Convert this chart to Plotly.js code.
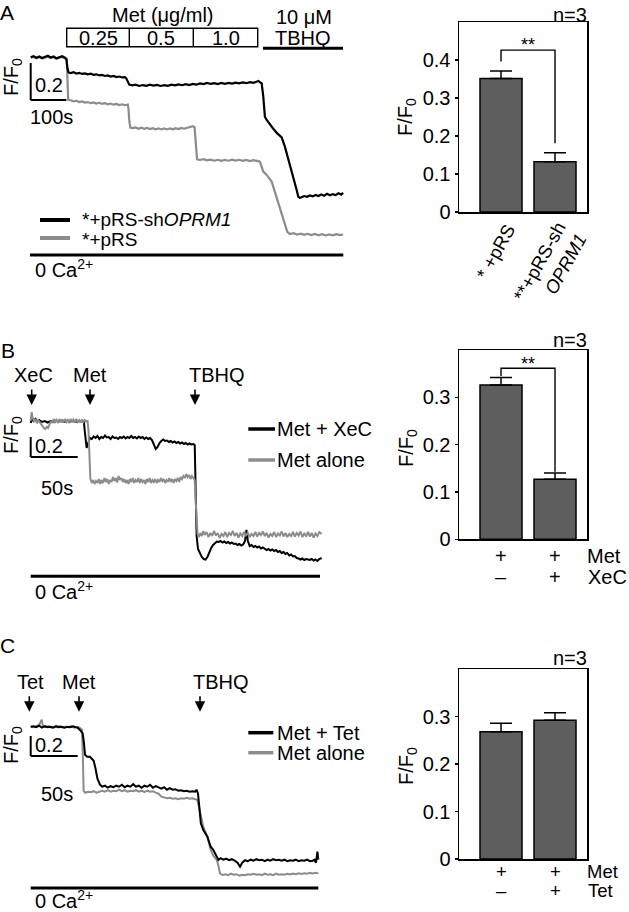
<!DOCTYPE html>
<html><head><meta charset="utf-8">
<script src="https://cdn.plot.ly/plotly-3.0.1.min.js"></script>
<style>html,body{margin:0;padding:0;background:#fff;}#chart{width:629px;height:912px;}</style>
</head><body><div id="chart"></div>
<script>
// ---------------- DATA ----------------
// Panel A traces (time s, F/F0)
const aBlackT = [0,8,16,24,32,40,48,56,64,72,80,88,96,100,103,106,112,120,128,136,144,152,160,168,176,184,192,200,208,216,224,232,240,248,256,264,268,272,276,284,294,304,314,324,334,344,354,364,374,384,394,404,414,424,434,444,454,464,474,484,494,504,514,524,534,544,554,564,574,584,594,604,614,624,632,638,642,647,651.5,656,661,670,679,690,703,712,717,726,735.6,745,749.6,754,759,766,774,782,790,798,806,814,822,830,838,846,854,862,870,875];
const aBlackV = [1.000,1.006,0.998,1.004,0.996,1.003,1.008,0.999,1.004,0.995,1.002,1.006,0.998,0.99,0.94,0.918,0.915,0.919,0.912,0.916,0.91,0.913,0.908,0.911,0.905,0.908,0.902,0.905,0.899,0.902,0.896,0.899,0.893,0.896,0.891,0.893,0.885,0.866,0.852,0.848,0.852,0.845,0.85,0.846,0.852,0.847,0.851,0.845,0.849,0.846,0.852,0.848,0.853,0.849,0.855,0.85,0.856,0.852,0.859,0.855,0.861,0.856,0.86,0.855,0.861,0.857,0.862,0.858,0.863,0.859,0.864,0.86,0.866,0.862,0.87,0.872,0.866,0.859,0.787,0.679,0.661,0.635,0.615,0.59,0.567,0.517,0.483,0.409,0.348,0.283,0.246,0.24,0.243,0.25,0.246,0.253,0.248,0.256,0.25,0.258,0.252,0.262,0.254,0.26,0.255,0.265,0.258,0.268];
const aGrayT = [0,8,16,24,32,40,48,56,64,72,80,88,96,101,103,105,112,120,128,136,144,152,160,168,176,184,192,200,208,216,224,232,240,248,256,264,272,274,276,279,286,294,302,310,318,326,334,342,350,358,366,374,382,390,398,406,414,422,430,438,446,454,459,461,463,466,474,484,494,504,514,524,534,544,554,564,574,584,594,604,614,624,634,642,651.5,661,675,684,693.6,703,712,718.8,726,736,746,756,766,776,786,796,806,816,826,836,846,856,866,875];
const aGrayV = [0.998,1.002,0.995,1.0,0.993,0.999,1.003,0.996,1.0,0.992,0.998,1.002,0.995,0.99,0.88,0.77,0.768,0.762,0.765,0.758,0.761,0.755,0.758,0.752,0.756,0.75,0.754,0.748,0.752,0.746,0.75,0.744,0.748,0.742,0.746,0.741,0.744,0.72,0.66,0.62,0.617,0.621,0.614,0.619,0.613,0.618,0.612,0.617,0.611,0.616,0.61,0.615,0.61,0.616,0.611,0.617,0.612,0.618,0.614,0.62,0.625,0.628,0.622,0.58,0.5,0.448,0.445,0.449,0.443,0.447,0.441,0.446,0.44,0.445,0.441,0.447,0.442,0.446,0.44,0.445,0.439,0.444,0.44,0.436,0.382,0.364,0.328,0.274,0.22,0.165,0.103,0.057,0.045,0.049,0.042,0.047,0.04,0.046,0.039,0.045,0.038,0.044,0.037,0.043,0.038,0.044,0.039,0.042];

// Panel B traces
const bBlackT = [0,1.5,3,5,7,9,12,15,18,21,24,27,30,33,36,39,42,45,48,51,54,56.5,57.5,58.5,59.5,60.5,61.5,63,65,67,69,71,73,75,77,79,81,83,85,87,89,91,93,95,97,99,101,103,105,107,109,111,113,115,117,119,121,123,125,127,129,131,133,135,137,139,141,143,145,147,149,151,153,155,157,159,161,163,165,167,169,171,173,174.5,175.5,176.5,178,180,182,184,186,188,190,192,194,196,198,200,202,204,206,208,210,212,214,216,218,220,222,224,226,228,229.5,231,233,235,237,239,241,243,245,247,249,251,253,255,257,259,261,263,265,267,269,271,273,275,277,279,281,283,285,287,289,291,293,295,297,299,301,303,305,307,309.5];
const bBlackV = [0.98,1.03,1.0,1.02,0.99,1.01,0.99,1.0,0.985,1.0,0.99,1.005,0.995,1.0,0.99,1.005,0.995,1.0,0.99,1.0,0.995,1.0,0.9,0.78,0.73,0.76,0.8,0.83,0.82,0.845,0.83,0.85,0.82,0.84,0.83,0.855,0.835,0.84,0.82,0.845,0.83,0.835,0.82,0.84,0.83,0.845,0.825,0.84,0.83,0.85,0.83,0.84,0.825,0.845,0.83,0.84,0.82,0.835,0.82,0.83,0.81,0.77,0.72,0.74,0.78,0.8,0.815,0.8,0.805,0.79,0.8,0.785,0.795,0.78,0.79,0.775,0.785,0.77,0.78,0.765,0.775,0.765,0.77,0.76,0.3,-0.15,-0.28,-0.33,-0.36,-0.38,-0.385,-0.36,-0.31,-0.27,-0.24,-0.22,-0.205,-0.21,-0.2,-0.215,-0.205,-0.22,-0.21,-0.225,-0.215,-0.23,-0.225,-0.24,-0.23,-0.245,-0.235,-0.2,-0.09,-0.2,-0.25,-0.24,-0.26,-0.25,-0.265,-0.255,-0.275,-0.265,-0.28,-0.29,-0.28,-0.295,-0.285,-0.3,-0.29,-0.31,-0.3,-0.32,-0.31,-0.33,-0.32,-0.345,-0.335,-0.355,-0.35,-0.37,-0.375,-0.385,-0.375,-0.39,-0.38,-0.385,-0.39,-0.38,-0.395,-0.385,-0.4,-0.38,-0.37];
const bGrayT = [0,1,2,3.5,5,6.5,8,9.5,11,12.5,14,15.5,17,18.5,20,21.5,23,24.5,26,27.5,29,30.5,32,33.5,35,36.5,38,39.5,41,42.5,44,45.5,47,48.5,50,51.5,53,54.5,56,57.5,59,60.5,61.5,62.5,63.5,65,66.5,68,69.5,71,72.5,74,75.5,77,78.5,80,81.5,83,84.5,86,87.5,89,90.5,92,93.5,95,96.5,98,99.5,101,102.5,104,105.5,107,108.5,110,111.5,113,114.5,116,117.5,119,120.5,122,123.5,125,126.5,128,129.5,131,132.5,134,135.5,137,138.5,140,141.5,143,144.5,146,147.5,149,150.5,152,153.5,155,156.5,158,159.5,161,162.5,164,165.5,167,168.5,170,171.5,173,174.5,175.5,176.5,177.5,179,180.5,182,183.5,185,187,189,191,193,195,197,199,201,203,205,207,209,211,213,215,217,219,221,223,225,227,229,231,233,235,237,239,241,243,245,247,249,251,253,255,257,259,261,263,265,267,269,271,273,275,277,279,281,283,285,287,289,291,293,295,297,299,301,303,305,307,309.5];
const bGrayV = [1.0,1.09,1.03,1.0,1.02,0.98,1.01,0.99,0.97,0.94,0.93,0.92,0.94,0.93,0.97,1.0,0.98,1.02,0.99,1.01,0.98,1.02,0.99,1.015,0.985,1.02,0.99,1.01,0.98,1.02,0.995,1.015,0.985,1.02,0.99,1.01,0.985,1.015,0.99,1.01,0.995,1.0,0.9,0.6,0.42,0.38,0.41,0.37,0.4,0.38,0.42,0.37,0.41,0.38,0.43,0.39,0.42,0.37,0.41,0.39,0.44,0.4,0.43,0.385,0.45,0.41,0.43,0.39,0.42,0.38,0.41,0.37,0.42,0.39,0.43,0.38,0.41,0.39,0.43,0.38,0.42,0.39,0.41,0.37,0.42,0.39,0.43,0.38,0.41,0.39,0.42,0.38,0.41,0.39,0.43,0.4,0.42,0.38,0.41,0.39,0.43,0.39,0.42,0.38,0.42,0.4,0.43,0.39,0.44,0.42,0.45,0.43,0.47,0.44,0.46,0.42,0.45,0.43,0.41,0.2,-0.05,-0.13,-0.16,-0.12,-0.15,-0.1,-0.14,-0.11,-0.16,-0.12,-0.15,-0.1,-0.145,-0.12,-0.17,-0.13,-0.15,-0.11,-0.16,-0.12,-0.14,-0.1,-0.15,-0.12,-0.165,-0.125,-0.15,-0.11,-0.145,-0.12,-0.16,-0.13,-0.15,-0.11,-0.155,-0.12,-0.14,-0.105,-0.15,-0.12,-0.165,-0.13,-0.15,-0.11,-0.16,-0.125,-0.145,-0.105,-0.155,-0.12,-0.16,-0.13,-0.15,-0.11,-0.155,-0.12,-0.145,-0.105,-0.16,-0.125,-0.15,-0.11,-0.155,-0.12,-0.165,-0.125,-0.15,-0.11,-0.13];

// Panel C traces
const cBlackT = [0,3,6,9,12,15,18,21,24,27,30,33,36,39,42,45,48,50,52.4,55.3,56.5,57.8,60,63,65,67,69,71,73.7,76,79,82,85,88,91,94,97,100,103,106,109,112,115,118,121,124,127,130,133,136,139,142,145,148,151,154,157,160,163,166,169,172,175,176.6,178,179,181,183.6,186,188,190,191.5,194.3,196.6,198,199.6,202,205,208,211,214,217,220,222.7,225,228,231,234,237,240,243,246,249,252,255,258,261,264,267,270,273,276,279,282,285,288,291,294,297,300,302,303.5,305,306];
const cBlackV = [1.0,1.005,0.995,1.01,0.99,1.005,0.995,1.0,0.99,1.005,0.995,1.0,0.99,1.0,0.995,1.005,0.995,0.99,0.967,0.933,0.85,0.72,0.70,0.70,0.68,0.66,0.58,0.48,0.42,0.4,0.41,0.39,0.405,0.395,0.41,0.4,0.42,0.395,0.41,0.4,0.425,0.4,0.41,0.39,0.41,0.4,0.42,0.39,0.405,0.39,0.38,0.395,0.37,0.385,0.37,0.375,0.36,0.365,0.355,0.36,0.35,0.355,0.35,0.37,0.33,0.233,0.033,-0.033,-0.07,-0.1,-0.16,-0.2,-0.233,-0.267,-0.3,-0.333,-0.315,-0.33,-0.32,-0.335,-0.325,-0.34,-0.36,-0.4,-0.36,-0.335,-0.345,-0.33,-0.34,-0.325,-0.335,-0.33,-0.345,-0.33,-0.34,-0.325,-0.335,-0.33,-0.34,-0.33,-0.345,-0.335,-0.34,-0.33,-0.345,-0.335,-0.34,-0.33,-0.345,-0.34,-0.33,-0.36,-0.25,-0.33];
const cGrayT = [0,3,6,9,11.7,13,16,19,22,25,28,31,34,37,40,43,46,49,52,54.5,55.5,56.3,58,61,64,67,70,73,76,79,82,85,88,91,94,97,100,103,106,109,112,115,118,121,124,127,130,133,136,139,142,145,148,151,154,157,160,163,166,169,172,175,177,179,181,183.6,187.9,191.5,194.3,197.9,199.5,201.4,204,207,210,213,216,219,222,225,228,231,234,237,240,243,246,249,252,255,258,261,264,267,270,273,276,279,282,285,288,291,294,297,300,303,306];
const cGrayV = [1.0,0.995,1.005,1.02,1.07,1.0,0.995,1.005,0.99,1.0,0.995,1.005,0.99,1.0,0.995,1.005,0.99,1.0,0.99,0.97,0.7,0.36,0.34,0.35,0.345,0.355,0.34,0.35,0.36,0.35,0.365,0.35,0.36,0.355,0.37,0.355,0.365,0.35,0.36,0.355,0.365,0.35,0.36,0.345,0.36,0.35,0.355,0.34,0.33,0.3,0.29,0.285,0.29,0.28,0.285,0.275,0.285,0.28,0.29,0.28,0.285,0.28,0.27,0.2,0.1,0.0,-0.1,-0.233,-0.29,-0.333,-0.38,-0.467,-0.483,-0.475,-0.485,-0.47,-0.48,-0.475,-0.49,-0.48,-0.485,-0.475,-0.48,-0.47,-0.48,-0.475,-0.485,-0.47,-0.48,-0.475,-0.485,-0.47,-0.48,-0.475,-0.48,-0.47,-0.478,-0.468,-0.475,-0.465,-0.472,-0.466,-0.47,-0.462,-0.468,-0.46,-0.467];

// Bar charts
const barPos = [0, 1];
const barALabels = ['* +pRS', '**+pRS-sh<br><i>OPRM1</i>'];
const barAMeans = [0.351, 0.132];
const barAErrs = [0.020, 0.024];
const barBMeans = [0.326, 0.127];
const barBErrs = [0.016, 0.013];
const barCMeans = [0.268, 0.292];
const barCErrs = [0.018, 0.016];
const barBMetRow = ['+', '+'];
const barBXeCRow = ['–', '+'];
const barCMetRow = ['+', '+'];
const barCTetRow = ['–', '+'];
const barATicks = [0, 0.1, 0.2, 0.3, 0.4];
const barBCTicks = [0, 0.1, 0.2, 0.3];

// Labels
const aNames = ['*+pRS-sh<i>OPRM1</i>', '*+pRS'];
const bNames = ['Met + XeC', 'Met alone'];
const cNames = ['Met + Tet', 'Met alone'];
const metConcs = ['0.25', '0.5', '1.0'];
const bAdditions = ['XeC', 'Met', 'TBHQ'];
const cAdditions = ['Tet', 'Met', 'TBHQ'];

// ---------------- LAYOUT HELPERS ----------------
const W = 629, H = 912;
const px = x => x / W;
const py = y => 1 - y / H;
const BLACK = '#000000', GRAY = '#8c8c8c', BARFILL = '#5e5e5e';
const FONT = 'Liberation Sans, Arial, Helvetica, sans-serif';

function xAxisLin(pxA, pxB, pxRef, valRef, ppu) {
  return {domain: [px(pxA), px(pxB)], range: [valRef + (pxA - pxRef) / ppu, valRef + (pxB - pxRef) / ppu], visible: false, fixedrange: true};
}
function yAxisLin(pxTop, pxBot, pxRef, valRef, ppu) {
  return {domain: [py(pxBot), py(pxTop)], range: [valRef - (pxBot - pxRef) / ppu, valRef - (pxTop - pxRef) / ppu], visible: false, fixedrange: true};
}
function barX(anchor) {
  return {domain: [px(459), px(587.3)], range: [-0.778, 1.598], anchor: anchor, showline: true, mirror: true, linecolor: BLACK, linewidth: 1.5, ticks: '', showticklabels: false, showgrid: false, zeroline: false, fixedrange: true};
}
function barY(anchor, top, bot, maxV, ticks) {
  return {domain: [py(bot), py(top)], range: [0, maxV], anchor: anchor, showline: true, mirror: true, linecolor: BLACK, linewidth: 1.5, ticks: 'outside', ticklen: 3, tickwidth: 1.5, tickcolor: BLACK, tickvals: ticks, ticktext: ticks.map(v => v === 0 ? '0' : v.toFixed(1)), tickfont: {size: 20, color: BLACK, family: FONT}, showgrid: false, zeroline: false, fixedrange: true};
}

function txt(x, y, text, o) {
  return Object.assign({xref: 'paper', yref: 'paper', x: px(x), y: py(y), text: text, showarrow: false, xanchor: 'center', yanchor: 'middle', borderpad: 0, borderwidth: 0, font: {size: 20, color: BLACK, family: FONT}}, o || {});
}
function arrow(x, yTip, len) {
  return {xref: 'paper', yref: 'paper', x: px(x), y: py(yTip), text: '', showarrow: true, arrowhead: 2, arrowsize: 1.3, arrowwidth: 1.6, arrowcolor: BLACK, ax: 0, ay: -len, standoff: 0, startstandoff: 0};
}
function pline(x0, y0, x1, y1, w, c) {
  return {type: 'line', xref: 'paper', yref: 'paper', x0: px(x0), y0: py(y0), x1: px(x1), y1: py(y1), line: {color: c || BLACK, width: w}};
}
function dline(xr, yr, x0, y0, x1, y1, w) {
  return {type: 'line', xref: xr, yref: yr, x0: x0, y0: y0, x1: x1, y1: y1, line: {color: BLACK, width: w}};
}

// ---------------- TRACES ----------------
const lineTr = (t, v, c, xa, ya, w) => ({type: 'scatter', mode: 'lines', x: t, y: v, line: {color: c, width: w}, xaxis: xa, yaxis: ya, hoverinfo: 'skip', showlegend: false});
const barTr = (means, errs, xa, ya) => ({type: 'bar', x: barPos, y: means, width: 0.778, marker: {color: BARFILL, line: {color: BLACK, width: 1.5}}, error_y: {type: 'data', array: errs, arrayminus: [0, 0], symmetric: false, color: BLACK, thickness: 1.5, width: 11}, xaxis: xa, yaxis: ya, hoverinfo: 'skip', showlegend: false});

const data = [
  lineTr(aGrayT, aGrayV, GRAY, 'x', 'y', 2.2),
  lineTr(aBlackT, aBlackV, BLACK, 'x', 'y', 2.2),
  lineTr(bBlackT, bBlackV, BLACK, 'x2', 'y2', 2),
  lineTr(bGrayT, bGrayV, GRAY, 'x2', 'y2', 2),
  lineTr(cGrayT, cGrayV, GRAY, 'x3', 'y3', 2),
  lineTr(cBlackT, cBlackV, BLACK, 'x3', 'y3', 2),
  barTr(barAMeans, barAErrs, 'x4', 'y4'),
  barTr(barBMeans, barBErrs, 'x5', 'y5'),
  barTr(barCMeans, barCErrs, 'x6', 'y6')
];

// ---------------- SHAPES ----------------
const boxEdges = [66.7, 129.3, 193.3, 257.7];
const shapes = [
  {type: 'rect', xref: 'paper', yref: 'paper', x0: px(boxEdges[0]), x1: px(boxEdges[3]), y0: py(46.7), y1: py(28.3), line: {color: BLACK, width: 1.4}},
  pline(boxEdges[1], 28.3, boxEdges[1], 46.7, 1.4),
  pline(boxEdges[2], 28.3, boxEdges[2], 46.7, 1.4),
  pline(263, 48.3, 343, 48.3, 3),
  pline(30, 255, 343.3, 255, 3),
  pline(30.7, 576.2, 320, 576.2, 3),
  pline(30.7, 888, 318.3, 888, 3),
  dline('x', 'y', 0, 0.769, 0, 0.969, 2), dline('x', 'y', 0, 0.769, 100, 0.769, 2),
  dline('x2', 'y2', 0, 0.64, 0, 0.84, 2), dline('x2', 'y2', 0, 0.64, 50, 0.64, 2),
  dline('x3', 'y3', 0, 0.707, 0, 0.907, 2), dline('x3', 'y3', 0, 0.707, 50, 0.707, 2),
  pline(40, 220, 70, 220, 4, BLACK), pline(40, 238, 70, 238, 4, GRAY),
  pline(248.3, 429, 275, 429, 3.5, BLACK), pline(248.3, 460, 275, 460, 3.5, GRAY),
  pline(248.3, 732.7, 273.3, 732.7, 3.5, BLACK), pline(248.3, 752.7, 273.3, 752.7, 3.5, GRAY),
  {type: 'path', xref: 'x4', yref: 'y4', path: 'M0,0.396 L0,0.426 L1,0.426 L1,0.181', line: {color: BLACK, width: 1.4}},
  {type: 'path', xref: 'x5', yref: 'y5', path: 'M0,0.345 L0,0.3615 L1,0.3615 L1,0.143', line: {color: BLACK, width: 1.4}}
];

// ---------------- ANNOTATIONS ----------------
const FF0 = 'F/F<sub>0</sub>';
const ann = [
  txt(7, 13, 'A', {font: {size: 21, color: BLACK, family: FONT}}),
  txt(7.5, 350, 'B', {font: {size: 21, color: BLACK, family: FONT}}),
  txt(7.5, 645, 'C', {font: {size: 21, color: BLACK, family: FONT}}),
  txt(162.5, 15, 'Met (μg/ml)'),
  txt(304, 17.5, '10 μM'),
  txt(303, 37.5, 'TBHQ'),
  txt(12.5, 77.5, FF0, {textangle: -90}),
  txt(49, 85, '0.2'),
  txt(51.7, 117, '100s'),
  txt(82, 219.5, aNames[0], {xanchor: 'left', font: {size: 19, color: BLACK, family: FONT}}),
  txt(82, 239, aNames[1], {xanchor: 'left', font: {size: 19, color: BLACK, family: FONT}}),
  txt(35, 268, '0 Ca<sup>2+</sup>', {xanchor: 'left'}),
  txt(33, 375, bAdditions[0]), txt(90, 375, bAdditions[1]), txt(216.7, 375, bAdditions[2]),
  arrow(31.7, 405, 17), arrow(90, 405, 17), arrow(195, 405, 17),
  txt(12, 435, FF0, {textangle: -90}),
  txt(49, 445.5, '0.2'),
  txt(57, 487.5, '50s'),
  txt(277, 429, bNames[0], {xanchor: 'left'}),
  txt(277, 460, bNames[1], {xanchor: 'left'}),
  txt(35, 590, '0 Ca<sup>2+</sup>', {xanchor: 'left'}),
  txt(30.8, 681.7, cAdditions[0]), txt(79.2, 681.7, cAdditions[1]), txt(221, 681.7, cAdditions[2]),
  arrow(29.3, 711.7, 17), arrow(79, 711.7, 17), arrow(200, 711.7, 17),
  txt(12, 745, FF0, {textangle: -90}),
  txt(49, 745, '0.2'),
  txt(57, 793.5, '50s'),
  txt(277, 732.7, cNames[0], {xanchor: 'left'}),
  txt(277, 752.7, cNames[1], {xanchor: 'left'}),
  txt(35, 899, '0 Ca<sup>2+</sup>', {xanchor: 'left'}),
  txt(587, 15, 'n=3', {xanchor: 'right'}),
  txt(407, 117, FF0, {textangle: -90}),
  {xref: 'x4', yref: 'y4', x: 0.5, y: 0.44, text: '**', showarrow: false, font: {size: 18, color: BLACK, family: FONT}},
  txt(495, 252, barALabels[0], {textangle: -61, font: {size: 18.5, color: BLACK, family: FONT}}),
  txt(549.5, 267, barALabels[1], {textangle: -61, align: 'right', font: {size: 18.5, color: BLACK, family: FONT}}),
  txt(587, 340, 'n=3', {xanchor: 'right'}),
  txt(407, 448, FF0, {textangle: -90}),
  {xref: 'x5', yref: 'y5', x: 0.5, y: 0.3706, text: '**', showarrow: false, font: {size: 18, color: BLACK, family: FONT}},
  txt(587, 658, 'n=3', {xanchor: 'right'}),
  txt(407, 766, FF0, {textangle: -90})
];
metConcs.forEach((c, i) => ann.push(txt((boxEdges[i] + boxEdges[i + 1]) / 2, 38, c)));
barPos.forEach((p, i) => {
  ann.push({xref: 'x5', yref: 'paper', x: p, y: py(556), text: barBMetRow[i], showarrow: false, yanchor: 'middle', font: {size: 20, color: BLACK, family: FONT}});
  ann.push({xref: 'x5', yref: 'paper', x: p, y: py(577), text: barBXeCRow[i], showarrow: false, yanchor: 'middle', font: {size: 20, color: BLACK, family: FONT}});
  ann.push({xref: 'x6', yref: 'paper', x: p, y: py(871.7), text: barCMetRow[i], showarrow: false, yanchor: 'middle', font: {size: 18.5, color: BLACK, family: FONT}});
  ann.push({xref: 'x6', yref: 'paper', x: p, y: py(890), text: barCTetRow[i], showarrow: false, yanchor: 'middle', font: {size: 18.5, color: BLACK, family: FONT}});
});
ann.push(txt(587, 556, 'Met', {xanchor: 'left'}));
ann.push(txt(588, 577, 'XeC', {xanchor: 'left'}));
ann.push(txt(587, 871.5, 'Met', {xanchor: 'left', font: {size: 18.5, color: BLACK, family: FONT}}));
ann.push(txt(588, 890.5, 'Tet', {xanchor: 'left', font: {size: 18.5, color: BLACK, family: FONT}}));

const layout = {
  width: W, height: H,
  margin: {l: 0, r: 0, t: 0, b: 0, pad: 0},
  paper_bgcolor: '#ffffff', plot_bgcolor: 'rgba(0,0,0,0)',
  font: {family: FONT, color: BLACK, size: 20},
  showlegend: false,
  xaxis: xAxisLin(28, 346, 30.7, 0, 0.357),
  yaxis: Object.assign(yAxisLin(40, 265, 57.3, 1, 185), {anchor: 'x'}),
  xaxis2: Object.assign(xAxisLin(28, 325, 30.7, 0, 0.94), {anchor: 'y2'}),
  yaxis2: Object.assign(yAxisLin(400, 572, 421, 1, 100), {anchor: 'x2'}),
  xaxis3: Object.assign(xAxisLin(28, 325, 30.7, 0, 0.94), {anchor: 'y3'}),
  yaxis3: Object.assign(yAxisLin(712, 882, 726.7, 1, 100), {anchor: 'x3'}),
  xaxis4: barX('y4'),
  yaxis4: barY('x4', 22, 212, 0.5, barATicks),
  xaxis5: barX('y5'),
  yaxis5: barY('x5', 350, 539.3, 0.4, barBCTicks),
  xaxis6: barX('y6'),
  yaxis6: barY('x6', 669, 859, 0.4, barBCTicks),
  shapes: shapes,
  annotations: ann
};

Plotly.newPlot('chart', data, layout, {displayModeBar: false, staticPlot: true});
</script></body></html>
